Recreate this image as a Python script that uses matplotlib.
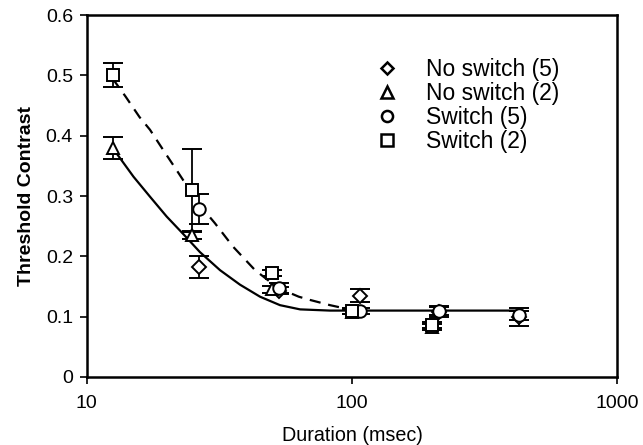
import matplotlib
matplotlib.use("Agg")
import matplotlib.pyplot as plt
from matplotlib.ticker import FixedLocator, FixedFormatter, NullLocator

plt.rcParams["font.family"] = ["Liberation Sans", "DejaVu Sans"]

# --- data ---
sw2_x = [12.5, 25, 50, 100, 200]
sw2_y = [0.50, 0.31, 0.172, 0.11, 0.086]
sw2_e = [0.02, 0.068, 0.005, 0.005, 0.005]

nsw2_x = [12.5, 25, 50, 100, 200]
nsw2_y = [0.38, 0.235, 0.145, 0.108, 0.083]
nsw2_e = [0.018, 0.006, 0.006, 0.004, 0.005]

sw5_x = [26.5, 53, 107, 213, 427]
sw5_y = [0.278, 0.147, 0.11, 0.11, 0.102]
sw5_e = [0.025, 0.008, 0.005, 0.008, 0.008]

nsw5_x = [26.5, 53, 107, 213, 427]
nsw5_y = [0.182, 0.143, 0.135, 0.108, 0.10]
nsw5_e = [0.018, 0.006, 0.010, 0.008, 0.015]

# fitted curves
fit_solid_x = [12.5, 15, 17.3, 20, 23.1, 26.7, 31.8, 37.8, 45, 53.5, 63.7, 82.6, 100, 200, 430]
fit_solid_y = [0.38, 0.332, 0.299, 0.266, 0.237, 0.207, 0.177, 0.153, 0.133, 0.119, 0.112, 0.110, 0.110, 0.110, 0.110]
fit_dash_x = [12.5, 14, 15.8, 17.3, 19.5, 21.8, 24, 27, 30.4, 35.6, 43.1, 49, 56.7, 63, 69.4, 82.6, 100]
fit_dash_y = [0.495, 0.465, 0.431, 0.41, 0.375, 0.343, 0.315, 0.282, 0.255, 0.216, 0.177, 0.158, 0.1415, 0.133, 0.1277, 0.119, 0.111]

legend_labels = ["No switch (5)", "No switch (2)", "Switch (5)", "Switch (2)"]
legend_markers = ["D", "^", "o", "s"]
legend_sizes = [6.5, 8.5, 8, 8]

fig = plt.figure(figsize=(6.43, 4.45), dpi=100)
ax = fig.add_axes([0.135, 0.153, 0.825, 0.813])

ax.plot(fit_solid_x, fit_solid_y, color="black", lw=1.6, zorder=2)
ax.plot(fit_dash_x, fit_dash_y, color="black", lw=1.6, ls=(0, (5, 3.5)), zorder=2)

series = [
    (nsw5_x, nsw5_y, nsw5_e, "D", 7),
    (nsw2_x, nsw2_y, nsw2_e, "^", 9),
    (sw5_x, sw5_y, sw5_e, "o", 9),
    (sw2_x, sw2_y, sw2_e, "s", 9),
]
for x, y, e, m, ms in series:
    ax.errorbar(x, y, yerr=e, fmt=m, ms=ms, mfc="white", mec="black", mew=1.4,
                ecolor="black", elinewidth=1.3, capsize=7, capthick=1.3, zorder=3)

ax.set_xscale("log")
ax.set_xlim(10, 1000)
ax.set_ylim(0, 0.6)
ax.xaxis.set_major_locator(FixedLocator([10, 100, 1000]))
ax.xaxis.set_major_formatter(FixedFormatter(["10", "100", "1000"]))
ax.xaxis.set_minor_locator(NullLocator())
ax.set_yticks([0, 0.1, 0.2, 0.3, 0.4, 0.5, 0.6])
ax.set_yticklabels(["0", "0.1", "0.2", "0.3", "0.4", "0.5", "0.6"])
ax.tick_params(axis="both", direction="out", length=5, width=1.2, labelsize=14, pad=5)
ax.tick_params(axis="x", pad=8)
for s in ax.spines.values():
    s.set_linewidth(1.8)

ax.set_xlabel("Duration (msec)", fontsize=14.2, labelpad=10)
ax.set_ylabel("Threshold Contrast", fontsize=14, fontweight="bold", labelpad=8)

handles = [plt.Line2D([], [], ls="none", marker=m, ms=ms, mfc="white", mec="black", mew=1.8)
           for m, ms in zip(legend_markers, legend_sizes)]
ax.legend(handles, legend_labels, loc="upper left", bbox_to_anchor=(0.527, 0.907), frameon=False,
          fontsize=16.5, handlelength=1.0, handletextpad=1.2, labelspacing=0.04, borderaxespad=0)

fig.savefig("out.png", dpi=100)
